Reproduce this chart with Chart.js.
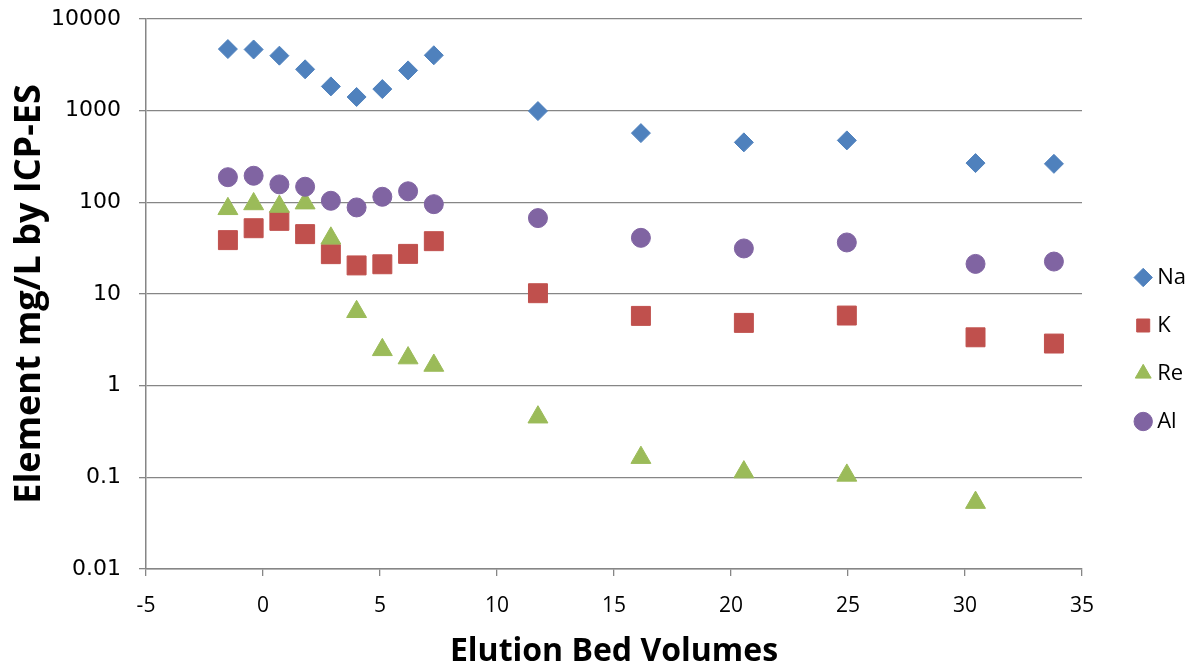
<!DOCTYPE html>
<html>
<head>
<meta charset="utf-8">
<script src="https://cdn.jsdelivr.net/npm/chart.js@4/dist/chart.umd.min.js"></script>
<style>
html,body{margin:0;padding:0;background:#fff;}
#wrap{width:1196px;height:668px;}
</style>
</head>
<body>
<div id="wrap"><canvas id="c" width="1196" height="668"></canvas></div>
<script>
// ---- data ----
const bedVolumes = [-1.5, -0.4, 0.7, 1.8, 2.9, 4.0, 5.1, 6.2, 7.3, 11.75, 16.15, 20.55, 24.95, 30.45, 33.8];
const naValues = [4700, 4650, 3980, 2825, 1840, 1410, 1720, 2750, 4020, 990, 569, 451, 474, 268, 263];
const kValues  = [38.7, 52.2, 62.8, 45, 27.2, 20.5, 21.1, 27.4, 37.7, 10.2, 5.77, 4.84, 5.82, 3.37, 2.88];
const reValues = [85, 96, 90, 98, 40.5, 6.4, 2.46, 2.0, 1.66, 0.453, 0.164, 0.114, 0.105, 0.053, null];
const alValues = [188, 195, 157, 148, 104, 88, 115, 132, 95.5, 67.3, 41, 31.4, 36.5, 21.3, 22.6];
const yTickValues = [0.01, 0.1, 1, 10, 100, 1000, 10000];
const yTickLabels = ['0.01', '0.1', '1', '10', '100', '1000', '10000'];
const seriesNames = ['Na', 'K', 'Re', 'Al'];

function pts(vals){ return bedVolumes.map((x,i)=>({x:x, y:vals[i]})).filter(p=>p.y!==null); }

const GRID = '#868686';
const ctx = document.getElementById('c').getContext('2d');
new Chart(ctx, {
  type: 'scatter',
  data: {
    datasets: [
      {label: seriesNames[0], data: pts(naValues), pointStyle: 'rectRot', pointRadius: 9.5, backgroundColor: '#4F81BD', borderColor: '#4F81BD', borderWidth: 1, order: 4},
      {label: seriesNames[1], data: pts(kValues), pointStyle: 'rect', pointRadius: 13.4, backgroundColor: '#C0504D', borderColor: '#C0504D', borderWidth: 1, order: 3},
      {label: seriesNames[2], data: pts(reValues), pointStyle: 'triangle', pointRadius: 11.5, backgroundColor: '#9BBB59', borderColor: '#9BBB59', borderWidth: 1, order: 2},
      {label: seriesNames[3], data: pts(alValues), pointStyle: 'circle', pointRadius: 9.5, backgroundColor: '#8064A2', borderColor: '#8064A2', borderWidth: 1, order: 1}
    ]
  },
  options: {
    responsive: false,
    devicePixelRatio: 1,
    animation: false,
    layout: {padding: {top: 19, left: 0, right: 0, bottom: 0}},
    plugins: {
      tooltip: {enabled: false},
      legend: {
        position: 'right',
        align: 'center',
        title: {display: true, text: '', padding: 0, font: {size: 10}},
        labels: {
          usePointStyle: true,
          boxWidth: 6,
          boxHeight: 13,
          padding: 26,
          color: '#000',
          font: {family: 'Open Sans', size: 22},
          sort: (a, b) => a.datasetIndex - b.datasetIndex
        }
      }
    },
    scales: {
      x: {
        type: 'linear',
        position: 'bottom',
        min: -5, max: 35,
        ticks: {stepSize: 5, color: '#000', font: {family: 'Open Sans', size: 21}, padding: 17, maxRotation: 0},
        grid: {drawOnChartArea: false, drawTicks: true, tickLength: 7, color: GRID, lineWidth: 1.3},
        border: {display: true, color: GRID, width: 1.5},
        title: {display: true, text: 'Elution Bed Volumes', color: '#000', font: {family: 'Open Sans', size: 32, weight: 'bold'}, padding: {top: 0, bottom: -3}},
        afterFit: (s) => { s.height = 99; }
      },
      y: {
        type: 'logarithmic',
        position: 'left',
        min: 0.01, max: 10000,
        afterBuildTicks: (s) => { s.ticks = yTickValues.map(v => ({value: v, major: true})); },
        ticks: {color: '#000', font: {family: 'DejaVu Sans', size: 22}, padding: 18, autoSkip: false,
                callback: (v, i) => yTickLabels[i]},
        grid: {drawOnChartArea: true, drawTicks: true, tickLength: 7, color: GRID, lineWidth: 1.3},
        border: {display: true, color: GRID, width: 1.5},
        title: {display: true, text: 'Element mg/L by ICP-ES', color: '#000', font: {family: 'Open Sans', size: 36, weight: 'bold'}, padding: {top: 8, bottom: 0}},
        afterFit: (s) => { s.width = 146; s.paddingTop = 0; s.paddingBottom = 0; }
      },
      gap: {
        type: 'linear',
        position: 'right',
        display: true,
        grid: {display: false},
        border: {display: false},
        ticks: {display: false},
        afterFit: (s) => { const lw = s.chart.legend ? s.chart.legend.width : 82; s.width = Math.max(0, 1196 - lw - 1082); s.paddingTop = 0; s.paddingBottom = 0; }
      }
    }
  }
});
</script>
</body>
</html>
